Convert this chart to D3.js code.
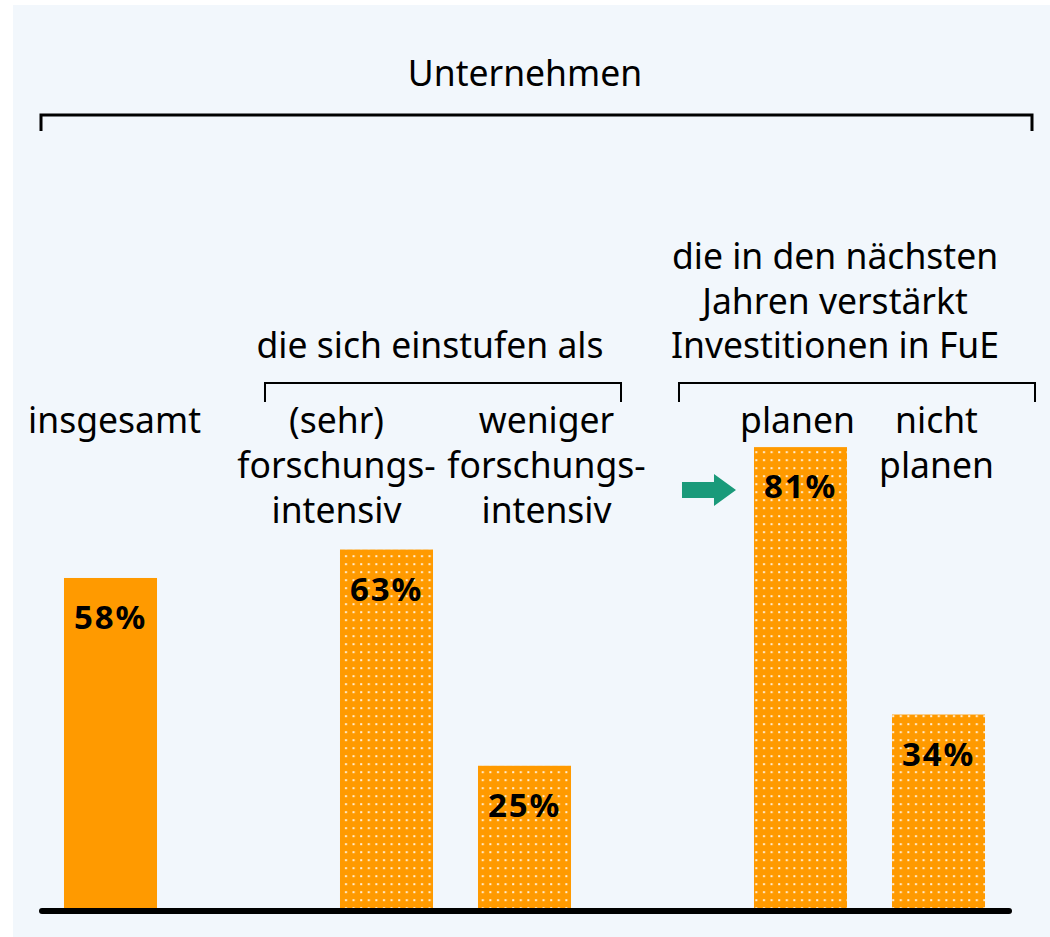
<!DOCTYPE html>
<html>
<head>
<meta charset="utf-8">
<script src="https://cdn.jsdelivr.net/npm/d3@7"></script>
<style>
  html,body{margin:0;padding:0;background:#fff;}
  svg{display:block;}
  text{font-family:"Noto Sans","Open Sans",sans-serif;fill:#000;}
</style>
</head>
<body>
<div id="chart"></div>
<script>
// values (share of companies, %)
var categories=["insgesamt","(sehr) forschungsintensiv","weniger forschungsintensiv","planen","nicht planen"];
var values=[58,63,25,81,34];
var groups=["gesamt","einstufung","einstufung","fue","fue"];
var dotted=[false,true,true,true,true];
var labelLines=[["insgesamt"],["(sehr)","forschungs-","intensiv"],["weniger","forschungs-","intensiv"],["planen"],["nicht","planen"]];
var topTitle="Unternehmen";
var groupTitles={einstufung:["die sich einstufen als"],fue:["die in den nächsten","Jahren verstärkt","Investitionen in FuE"]};

var W=1050,H=937;
var orange="#ff9a00", teal="#1a9a7a";
var fs="35.5px";
var svg=d3.select("#chart").append("svg").attr("width",W).attr("height",H);
svg.append("rect").attr("x",13).attr("y",5).attr("width",W-13).attr("height",H-5).attr("fill","#f2f7fc");

var defs=svg.append("defs");
var pat=defs.append("pattern").attr("id","dots").attr("patternUnits","userSpaceOnUse").attr("width",7.6).attr("height",8);
pat.append("rect").attr("width",7.6).attr("height",8).attr("fill",orange);
pat.append("rect").attr("x",3).attr("y",3.2).attr("width",2).attr("height",2).attr("fill","#fff").attr("opacity",0.85);

// slots: insert an empty slot whenever the group changes
var slots=[], s=0;
categories.forEach(function(c,i){ if(i>0&&groups[i]!==groups[i-1]) s++; slots.push(s); s++; });
var nSlots=s;
var x=d3.scaleBand().domain(d3.range(nSlots)).range([41.5,41.5+138*nSlots]).paddingInner(0.326).paddingOuter(0.163);
var base=908;
var y=d3.scaleLinear().domain([0,100]).range([base,base-569]);
var bw=x.bandwidth();

var bars=categories.map(function(c,i){return {cat:c,v:values[i],slot:slots[i],dotted:dotted[i],lines:labelLines[i],group:groups[i]};});

svg.append("g").selectAll("rect").data(bars).join("rect")
  .attr("x",function(d){return x(d.slot);}).attr("width",bw)
  .attr("y",function(d){return y(d.v);}).attr("height",function(d){return base-y(d.v);})
  .attr("fill",function(d){return d.dotted?"url(#dots)":orange;});

svg.append("g").selectAll("text").data(bars).join("text")
  .attr("x",function(d){return x(d.slot)+bw/2;}).attr("y",function(d){return y(d.v)+51;})
  .attr("text-anchor","middle").style("font-size","33px").style("font-weight","bold").style("letter-spacing","1.8px")
  .text(function(d){return d.v+"%";});

// baseline
svg.append("line").attr("x1",42).attr("x2",1009).attr("y1",base+3).attr("y2",base+3)
  .attr("stroke","#000").attr("stroke-width",6).attr("stroke-linecap","round");

// category labels (shifted a little as in the original layout)
var labelShift=[4,-50,22,-3,-2];
svg.append("g").selectAll("text").data(bars).join("text")
  .attr("text-anchor","middle").style("font-size",fs)
  .attr("transform",function(d,i){return "translate("+(x(d.slot)+bw/2+labelShift[i])+",433)";})
  .selectAll("tspan").data(function(d){return d.lines;}).join("tspan")
  .attr("x",0).attr("dy",function(d,i){return i?45:0;}).text(function(d){return d;});

function bracket(x1,x2,yy,tick,w){
  svg.append("path").attr("d","M"+x1+","+(yy+tick)+"V"+yy+"H"+x2+"V"+(yy+tick))
    .attr("fill","none").attr("stroke","#000").attr("stroke-width",w);
}
// top bracket
bracket(41,1032,115,16,3);
svg.append("text").attr("x",525).attr("y",86).attr("text-anchor","middle").style("font-size",fs).text(topTitle);

// group brackets and titles
var titleShift={einstufung:-13,fue:-22};
Object.keys(groupTitles).forEach(function(g){
  var members=bars.filter(function(d){return d.group===g;});
  var x1=x(members[0].slot)-75, x2=x(members[members.length-1].slot)+bw+50;
  bracket(x1,x2,383,19,2);
  var lines=groupTitles[g];
  var cx=(x1+x2)/2+titleShift[g];
  svg.append("text").attr("text-anchor","middle").style("font-size",fs)
    .attr("transform","translate("+cx+","+(358-(lines.length-1)*44.5)+")")
    .selectAll("tspan").data(lines).join("tspan")
    .attr("x",0).attr("dy",function(d,i){return i?44.5:0;}).text(function(d){return d;});
});

// arrow pointing at the "planen" bar
var ax=x(bars[3].slot), ay=490;
svg.append("path")
  .attr("d","M"+(ax-72)+","+(ay-8)+"H"+(ax-40)+"V"+(ay-16)+"L"+(ax-18)+","+ay+"L"+(ax-40)+","+(ay+16)+"V"+(ay+8)+"H"+(ax-72)+"Z")
  .attr("fill",teal);
</script>
</body>
</html>
